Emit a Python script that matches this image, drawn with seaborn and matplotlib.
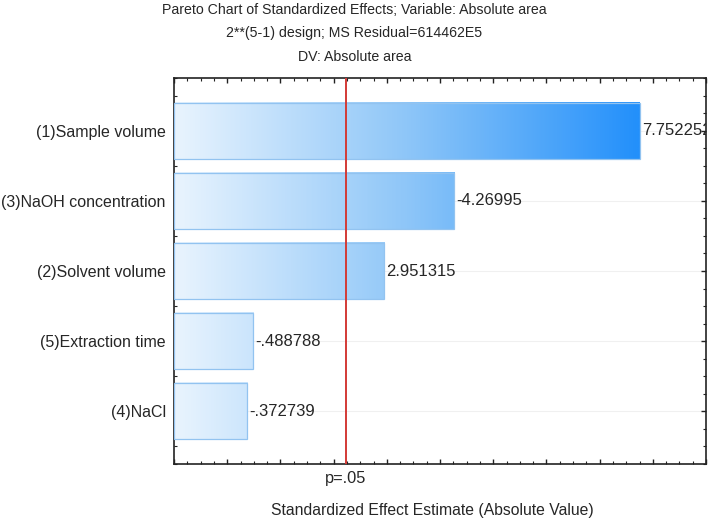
import matplotlib

matplotlib.use("Agg")
import matplotlib.pyplot as plt
import matplotlib.transforms as mtransforms
import numpy as np
import pandas as pd
import seaborn as sns
from matplotlib.colors import LinearSegmentedColormap
from matplotlib.ticker import MultipleLocator

# effects, already sorted by absolute size
effects = [
    "(1)Sample volume",
    "(3)NaOH concentration",
    "(2)Solvent volume",
    "(5)Extraction time",
    "(4)NaCl",
]
estimates = [7.752252, -4.26995, 2.951315, -0.488788, -0.372739]
value_labels = ["7.752252", "-4.26995", "2.951315", "-.488788", "-.372739"]
p_crit = 2.228139
p_label = "p=.05"

title_lines = [
    "Pareto Chart of Standardized Effects; Variable: Absolute area",
    "2**(5-1) design; MS Residual=614462E5",
    "DV: Absolute area",
]
x_label = "Standardized Effect Estimate (Absolute Value)"

df = pd.DataFrame({"effect": effects, "estimate": estimates})
df["abs_est"] = df["estimate"].abs()

sns.set_style("ticks")
plt.rcParams["font.family"] = ["Liberation Sans", "DejaVu Sans"]
plt.rcParams["font.size"] = 11

fig = plt.figure(figsize=(7.09, 5.22), dpi=100)
ax = fig.add_axes([174 / 709, 58 / 522, 532 / 709, 386 / 522])

sns.barplot(data=df, x="abs_est", y="effect", orient="h", width=0.8, ax=ax)

x_min, x_max = -1, 9
y_lim = (4.75, -0.75)

# light-to-strong blue gradient that depends on the x position
cmap = LinearSegmentedColormap.from_list("statblue", ["#e9f4fe", "#8ec6f8", "#2390fb"])
for patch, val in zip(ax.patches, df["abs_est"]):
    y0 = patch.get_y()
    h = patch.get_height()
    patch.set_x(x_min)
    patch.set_width(val - x_min)
    patch.set_facecolor("none")
    patch.set_edgecolor("#92c3f0")
    patch.set_linewidth(0.9)
    patch.set_zorder(3)
    grad = np.linspace(x_min, val, 256).reshape(1, -1)
    ax.imshow(
        grad,
        extent=(x_min, val, y0 + h, y0),
        aspect="auto",
        cmap=cmap,
        vmin=x_min,
        vmax=7.75,
        zorder=2,
        interpolation="bilinear",
    )

for val, lab, ypos in zip(df["abs_est"], value_labels, range(len(df))):
    ax.annotate(
        lab,
        (val, ypos),
        xytext=(1.5, 0),
        textcoords="offset points",
        ha="left",
        va="center",
        fontsize=12,
        clip_on=True,
        zorder=5,
    )

ax.axvline(p_crit, color="#d33a36", lw=1.4, zorder=4)

ax.set_xlim(x_min, x_max)
ax.set_ylim(*y_lim)

ax.xaxis.set_major_locator(MultipleLocator(1))
ax.xaxis.set_minor_locator(MultipleLocator(0.25))
ax.yaxis.set_minor_locator(MultipleLocator(0.25))
ax.set_xticklabels([])
ax.tick_params(which="both", direction="in", top=True, right=True, color="#222222")
ax.tick_params(which="major", length=3.5, width=1)
ax.tick_params(which="minor", length=2, width=0.8)
ax.tick_params(axis="y", which="major", pad=6, labelsize=11.5)

ax.grid(axis="y", which="major", color="#f0f0f0", lw=0.8, zorder=0)
ax.set_axisbelow(True)
for sp in ax.spines.values():
    sp.set_linewidth(1.2)
    sp.set_color("#222222")

ax.set_ylabel("")
ax.set_xlabel("")

trans = mtransforms.blended_transform_factory(ax.transData, fig.transFigure)
fig.text(p_crit, 1 - 479 / 522, p_label, transform=trans, ha="center", va="center", fontsize=11.8)
fig.text(432 / 709, 1 - 511 / 522, x_label, ha="center", va="center", fontsize=11.3)

for i, line in enumerate(title_lines):
    fig.text(0.5, 1 - (10 + 23.5 * i) / 522, line, ha="center", va="center", fontsize=10.2)

fig.savefig("out.png", dpi=100)
